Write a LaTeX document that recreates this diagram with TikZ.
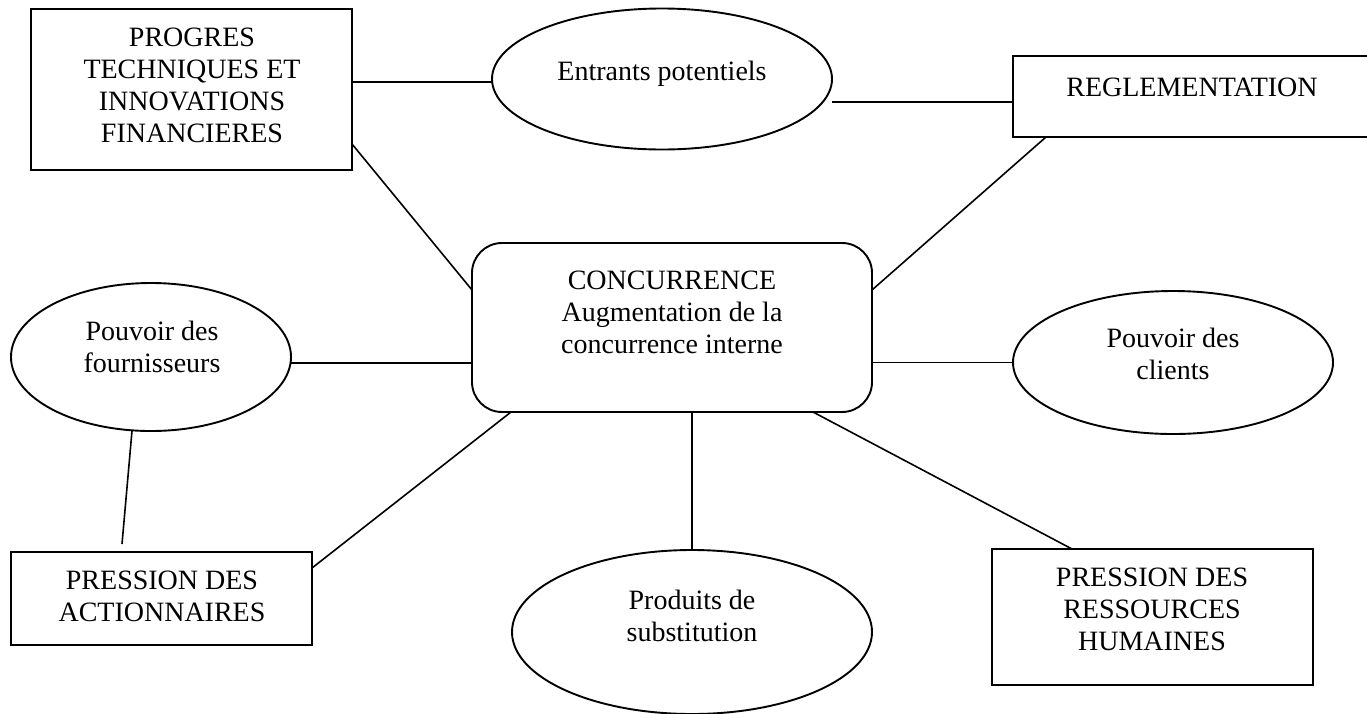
\documentclass[tikz,border=0pt]{standalone}
\usepackage{fontspec}
\setmainfont{Liberation Serif}
\usetikzlibrary{shapes.geometric}
\begin{document}
\begin{tikzpicture}[x=1pt,y=-1pt,
  shapebox/.style={draw, line width=1.9pt, inner sep=0pt, outer sep=0pt},
  rectbox/.style={shapebox, rectangle},
  ovalbox/.style={shapebox, ellipse},
  roundbox/.style={shapebox, rectangle, rounded corners=30pt},
  txt/.style={inner sep=0pt, align=center, font=\fontsize{28}{32}\selectfont},
  link/.style={line width=1.6pt}]
\useasboundingbox (0,0) rectangle (1367,713);

% shapes
\node[rectbox, minimum width=321pt, minimum height=161pt] (progres) at (191.5,89.5) {};
\node[ovalbox, minimum width=340pt, minimum height=141pt] (ent) at (662,79) {};
\node[rectbox, minimum width=357pt, minimum height=81pt] (reg) at (1191.5,96.5) {};
\node[roundbox, minimum width=400pt, minimum height=169pt] (center) at (672,327.5) {};
\node[ovalbox, minimum width=280pt, minimum height=148pt] (four) at (151,357) {};
\node[ovalbox, minimum width=320pt, minimum height=143pt] (cli) at (1173,362.5) {};
\node[rectbox, minimum width=301pt, minimum height=93pt] (act) at (161.5,598.5) {};
\node[ovalbox, minimum width=360pt, minimum height=164pt] (sub) at (692,632) {};
\node[rectbox, minimum width=321pt, minimum height=136pt] (rh) at (1152.5,617) {};

% texts
\node[txt] (tprogres) at (192,85) {PROGRES\\TECHNIQUES ET\\INNOVATIONS\\FINANCIERES};
\node[txt] (tent) at (662,74) {Entrants potentiels};
\node[txt] (treg) at (1192,87) {REGLEMENTATION};
\node[txt] (tcenter) at (672,312) {CONCURRENCE\\Augmentation de la\\concurrence interne};
\node[txt] (tfour) at (152,347) {Pouvoir des\\fournisseurs};
\node[txt] (tcli) at (1173,354) {Pouvoir des\\clients};
\node[txt] (tact) at (162,596) {PRESSION DES\\ACTIONNAIRES};
\node[txt] (tsub) at (692,616) {Produits de\\substitution};
\node[txt] (trh) at (1152,609.5) {PRESSION DES\\RESSOURCES\\HUMAINES};

% connectors
\coordinate (p1) at ([yshift=7.5pt]progres.east);
\draw[link] (p1) -- (p1 -| ent.west);
\coordinate (e1) at ([yshift=-23pt]ent.east);
\draw[link] (e1) -- (e1 -| reg.west);
\draw[link] ([yshift=-54.5pt]progres.east) -- ([yshift=37.5pt]center.west);
\draw[link] ([xshift=33pt]reg.south west) -- ([yshift=37.5pt]center.east);
\coordinate (f1) at ([yshift=-6pt]four.east);
\draw[link] (f1) -- (f1 -| center.west);
\draw[link] (cli.west -| center.east) -- (cli.west);
\draw[link] ([xshift=-19pt]four.south) -- ([xshift=-39.5pt,yshift=8pt]act.north);
\draw[link] ([xshift=-161pt]center.south) -- ([yshift=30.5pt]act.east);
\draw[link] (center.south -| sub.north) -- (sub.north);
\draw[link] ([xshift=141pt]center.south) -- ([xshift=-80.5pt]rh.north);
\end{tikzpicture}
\end{document}
